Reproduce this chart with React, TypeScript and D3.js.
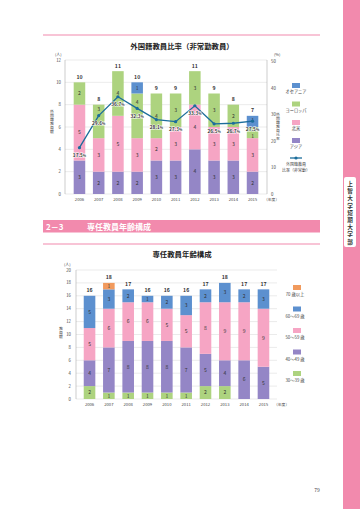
import React from 'react';
import * as d3 from 'd3';

// ---- data: 外国籍教員比率（非常勤教員）
const years = ['2006', '2007', '2008', '2009', '2010', '2011', '2012', '2013', '2014', '2015'];
const asia = [3, 2, 2, 2, 3, 3, 4, 3, 3, 2];
const northAmerica = [5, 3, 5, 3, 2, 3, 4, 3, 3, 3];
const europe = [2, 3, 4, 4, 4, 3, 3, 3, 2, 1];
const oceania = [0, 0, 0, 1, 0, 0, 0, 0, 0, 1];
const ratio = [17.5, 29.6, 36.7, 32.3, 28.1, 27.3, 33.3, 26.5, 26.7, 27.5];
const topTicks = [0, 2, 4, 6, 8, 10, 12];
const pctTicks = [0, 10, 20, 30, 40, 50];

// ---- data: 専任教員年齢構成
const age30 = [2, 1, 1, 1, 1, 1, 2, 2, 0, 0];
const age40 = [4, 7, 8, 8, 8, 7, 5, 4, 6, 5];
const age50 = [5, 6, 6, 6, 5, 5, 8, 9, 9, 9];
const age60 = [5, 3, 2, 1, 2, 3, 2, 3, 2, 3];
const age70 = [0, 1, 0, 0, 0, 0, 0, 0, 0, 0];
const bottomTicks = [0, 2, 4, 6, 8, 10, 12, 14, 16, 18, 20];

const FONT = '"Noto Sans CJK JP", "Noto Sans", sans-serif';
const PINK = '#f28aad';
const C_PURPLE = '#9486c6';
const C_PINK = '#f6a5c4';
const C_GREEN = '#add37f';
const C_BLUE = '#5c90cf';
const C_ORANGE = '#f19a5d';
const C_LINE = '#1b6d9b';

type Series = { key: string; values: number[]; color: string };

// upright vertical japanese text (axis titles)
function VText({ text, x, y, size = 3.9 }: { text: string; x: number; y: number; size?: number }) {
  return (
    <text x={x} y={y} fontSize={size} fill="#444" style={{ writingMode: 'vertical-rl' as any }}>{text}</text>
  );
}

function StackedBars({ series, x, y, avoid }: {
  series: Series[]; x: d3.ScaleBand<string>; y: d3.ScaleLinear<number, number>; avoid?: number[];
}) {
  const rows = years.map((yr, i) => {
    const r: any = { year: yr };
    series.forEach(s => (r[s.key] = s.values[i]));
    return r;
  });
  const stack = d3.stack<any>().keys(series.map(s => s.key))(rows);
  return (
    <g>
      {stack.map((layer, li) => (
        <g key={layer.key}>
          {layer.map((d, i) => {
            const v = d[1] - d[0];
            if (v <= 0) return null;
            const x0 = x(years[i])!;
            const yTop = y(d[1]);
            const yBot = y(d[0]);
            const h = yBot - yTop;
            let ly = yTop + h / 2;
            // keep the value clear of the percent label
            if (avoid && Math.abs(ly - avoid[i]) < 8) {
              if (h > 20) ly = Math.max(yTop + 5, avoid[i] - 14);
              else if (ly < avoid[i]) ly = Math.max(yTop + 3, avoid[i] - 9);
              else ly = Math.min(yBot - 2, avoid[i] + 7);
            }
            return (
              <g key={i}>
                <rect x={x0} y={yTop} width={x.bandwidth()} height={h} fill={series[li].color} />
                <text x={x0 + x.bandwidth() / 2} y={ly + 1.8} fontSize={5} textAnchor="middle" fill="#333">{v}</text>
              </g>
            );
          })}
        </g>
      ))}
      {years.map((yr, i) => {
        const total = d3.sum(series, s => s.values[i]);
        return (
          <text key={yr} x={x(yr)! + x.bandwidth() / 2} y={y(total) - 3.5} fontSize={5.2} fontWeight="bold" textAnchor="middle" fill="#333">{total}</text>
        );
      })}
    </g>
  );
}

function TopChart() {
  const x = d3.scaleBand<string>().domain(years).range([66, 266]).padding(0.4);
  const y = d3.scaleLinear().domain([0, 12]).range([194, 60]);
  const yr = d3.scaleLinear().domain([0, 50]).range([194, 61.5]);
  const series: Series[] = [
    { key: 'asia', values: asia, color: C_PURPLE },
    { key: 'na', values: northAmerica, color: C_PINK },
    { key: 'eu', values: europe, color: C_GREEN },
    { key: 'oc', values: oceania, color: C_BLUE },
  ];
  const line = d3.line<number>().x((_, i) => x(years[i])! + x.bandwidth() / 2).y(d => yr(d));
  const pctY = ratio.map(r => yr(r) + 8);
  const legend = [
    { label: 'オセアニア', color: C_BLUE, y: 85 },
    { label: 'ヨーロッパ', color: C_GREEN, y: 103.5 },
    { label: '北米', color: C_PINK, y: 122 },
    { label: 'アジア', color: C_PURPLE, y: 140 },
  ];
  return (
    <g>
      <text x={182} y={49} fontSize={7.4} fontWeight="bold" textAnchor="middle" fill="#222">外国籍教員比率（非常勤教員）</text>
      {topTicks.map(t => (
        <g key={t}>
          <line x1={65} x2={267} y1={y(t)} y2={y(t)} stroke="#d6d6d6" strokeWidth={0.5} />
          <text x={61} y={y(t) + 1.5} fontSize={4.3} textAnchor="end" fill="#444">{t}</text>
        </g>
      ))}
      {pctTicks.map(t => (
        <text key={t} x={271} y={yr(t) + 1.5} fontSize={4.3} fill="#444">{t}</text>
      ))}
      <line x1={65} x2={65} y1={60} y2={194} stroke="#999" strokeWidth={0.5} />
      <line x1={267} x2={267} y1={60} y2={194} stroke="#999" strokeWidth={0.5} />
      <text x={55} y={56} fontSize={4} fill="#444">(人)</text>
      <text x={274} y={56} fontSize={4} fill="#444">(%)</text>
      <VText text="外国籍教員数" x={52} y={110} />
      <VText text="外国籍教員比率" x={278} y={113} />
      <StackedBars series={series} x={x} y={y} avoid={pctY} />
      {years.map(yr2 => (
        <text key={yr2} x={x(yr2)! + x.bandwidth() / 2} y={200.5} fontSize={4.2} textAnchor="middle" fill="#444">{yr2}</text>
      ))}
      <text x={264} y={200.5} fontSize={3.8} fill="#444">（年度）</text>
      <path d={line(ratio)!} fill="none" stroke={C_LINE} strokeWidth={1.3} />
      {ratio.map((r, i) => {
        const cx = x(years[i])! + x.bandwidth() / 2;
        return (
          <g key={i}>
            <circle cx={cx} cy={yr(r)} r={1.6} fill={C_LINE} />
            <text x={cx} y={pctY[i] + 1.7} fontSize={4.8} fontWeight="bold" textAnchor="middle" fill="#333"
              stroke="#fff" strokeWidth={1} paintOrder="stroke">
              {r.toFixed(1)}<tspan fontSize={3.4}>%</tspan>
            </text>
          </g>
        );
      })}
      {legend.map(l => (
        <g key={l.label}>
          <rect x={292} y={l.y - 2} width={8} height={5} fill={l.color} />
          <text x={296} y={l.y + 8} fontSize={4.2} textAnchor="middle" fill="#444">{l.label}</text>
        </g>
      ))}
      <line x1={290} x2={302} y1={158} y2={158} stroke={C_LINE} strokeWidth={1.3} />
      <circle cx={296} cy={158} r={1.6} fill={C_LINE} />
      <text x={296} y={166} fontSize={4} textAnchor="middle" fill="#444">外国籍教員</text>
      <text x={296} y={171.5} fontSize={4} textAnchor="middle" fill="#444">比率（非常勤）</text>
    </g>
  );
}

function BottomChart() {
  const x = d3.scaleBand<string>().domain(years).range([76, 277]).padding(0.4);
  const y = d3.scaleLinear().domain([0, 20]).range([399, 270]);
  const series: Series[] = [
    { key: 'a30', values: age30, color: C_GREEN },
    { key: 'a40', values: age40, color: C_PURPLE },
    { key: 'a50', values: age50, color: C_PINK },
    { key: 'a60', values: age60, color: C_BLUE },
    { key: 'a70', values: age70, color: C_ORANGE },
  ];
  const legend = [
    { label: '70 歳以上', color: C_ORANGE, y: 287 },
    { label: '60～69 歳', color: C_BLUE, y: 308.5 },
    { label: '50～59 歳', color: C_PINK, y: 330 },
    { label: '40～49 歳', color: C_PURPLE, y: 351.5 },
    { label: '30～39 歳', color: C_GREEN, y: 373 },
  ];
  return (
    <g>
      <text x={182} y={257} fontSize={7.4} fontWeight="bold" textAnchor="middle" fill="#222">専任教員年齢構成</text>
      {bottomTicks.map(t => (
        <g key={t}>
          <line x1={76} x2={277} y1={y(t)} y2={y(t)} stroke="#d6d6d6" strokeWidth={0.5} />
          <text x={71} y={y(t) + 1.5} fontSize={4.3} textAnchor="end" fill="#444">{t}</text>
        </g>
      ))}
      <line x1={76} x2={76} y1={270} y2={399} stroke="#999" strokeWidth={0.5} />
      <text x={64} y={265.5} fontSize={4} fill="#444">(人)</text>
      <VText text="教員数" x={61} y={327} />
      <StackedBars series={series} x={x} y={y} />
      {years.map(yr2 => (
        <text key={yr2} x={x(yr2)! + x.bandwidth() / 2} y={405.5} fontSize={4.2} textAnchor="middle" fill="#444">{yr2}</text>
      ))}
      <text x={274} y={405.5} fontSize={3.8} fill="#444">（年度）</text>
      {legend.map(l => (
        <g key={l.label}>
          <rect x={293} y={l.y - 2} width={8} height={5} fill={l.color} />
          <text x={295} y={l.y + 9} fontSize={4.3} textAnchor="middle" fill="#444">{l.label}</text>
        </g>
      ))}
    </g>
  );
}

export default function App() {
  const side = '上智大学短期大学部'.split('');
  return (
    <svg width={360} height={509} style={{ position: 'absolute', left: 0, top: 0, background: '#fff' }} fontFamily={FONT}>
      <rect x={0} y={0} width={360} height={509} fill="#fff" />
      <rect x={343} y={0} width={17} height={509} fill={PINK} />
      <rect x={344} y={177} width={12} height={70} rx={2} fill="#fff" />
      {side.map((c, i) => (
        <text key={i} x={350} y={186 + i * 7.2} fontSize={5.6} fontWeight="bold" textAnchor="middle" fill="#333">{c}</text>
      ))}
      <line x1={43} x2={320} y1={35} y2={35} stroke={PINK} strokeWidth={1.2} />
      <TopChart />
      <rect x={43} y={220} width={277} height={12.5} fill={PINK} />
      <text x={46} y={229.8} fontSize={8} fontWeight="bold" fill="#fff">2－3</text>
      <text x={87} y={229.8} fontSize={8} fontWeight="bold" fill="#fff">専任教員年齢構成</text>
      <line x1={43} x2={320} y1={244} y2={244} stroke={PINK} strokeWidth={1.2} />
      <BottomChart />
      <text x={317} y={492} fontSize={5} textAnchor="middle" fill="#444">79</text>
    </svg>
  );
}
